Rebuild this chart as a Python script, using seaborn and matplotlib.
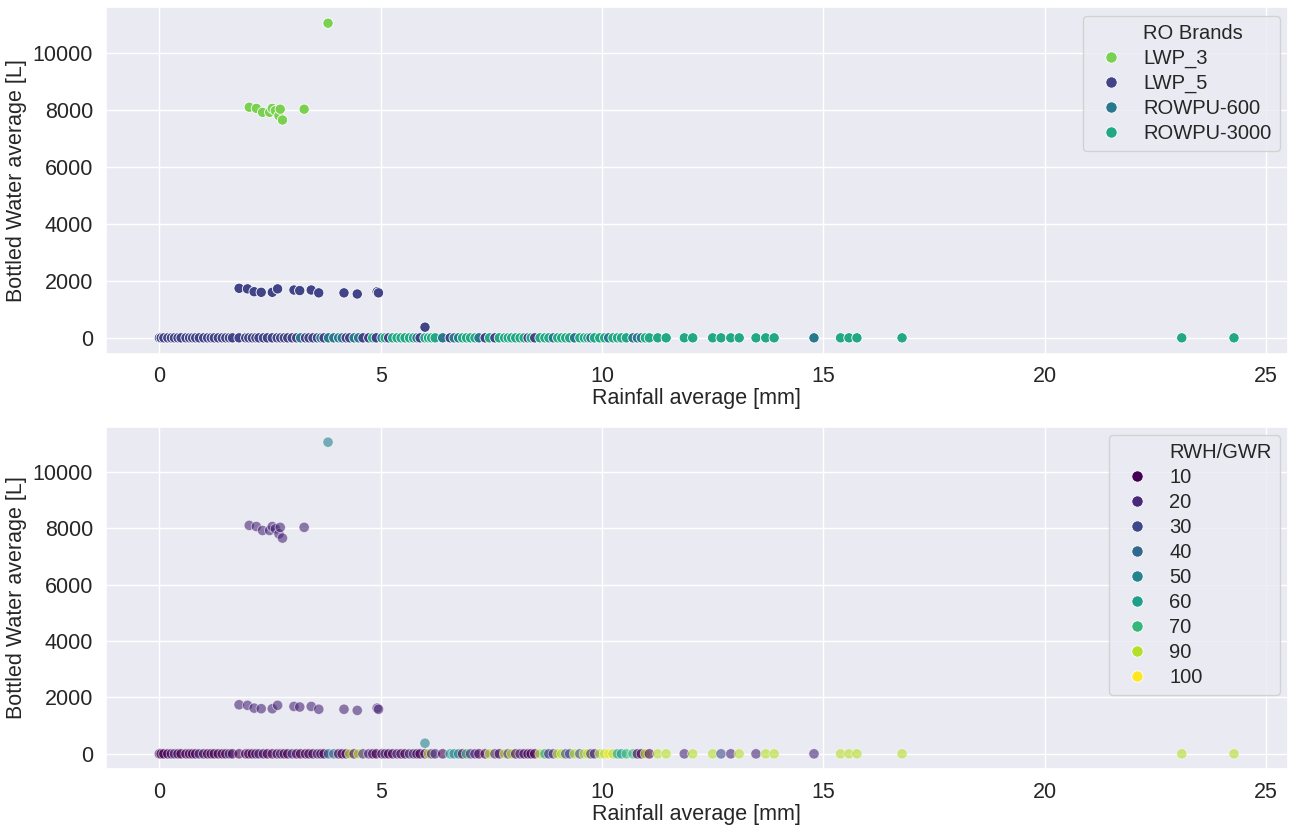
import numpy as np
import pandas as pd
import seaborn as sns
import matplotlib.pyplot as plt
from matplotlib.lines import Line2D

# RO brand names and their colours (top panel)
brands = ["LWP_3", "LWP_5", "ROWPU-600", "ROWPU-3000"]
brand_colors = ["#7ad151", "#414487", "#2a788e", "#22a884"]

# points with non-zero bottled water
lwp3_rain = [2.03, 2.19, 2.33, 2.49, 2.55, 2.62, 2.70, 2.73, 2.78, 3.27, 3.81]
lwp3_water = [8100, 8060, 7920, 7920, 8060, 7980, 7800, 8030, 7650, 8030, 11050]
lwp3_rwh = [20, 20, 20, 20, 20, 20, 20, 20, 20, 20, 50]

lwp5_rain = [1.80, 1.99, 2.14, 2.30, 2.55, 2.67, 3.04, 3.17, 3.43, 3.60, 4.17, 4.47, 4.92, 4.95, 6.00]
lwp5_water = [1740, 1720, 1620, 1600, 1600, 1720, 1680, 1660, 1680, 1580, 1580, 1540, 1620, 1580, 375]
lwp5_rwh = [20, 20, 20, 20, 20, 20, 20, 20, 20, 20, 20, 20, 20, 20, 50]

# points with zero bottled water (brand index into `brands`)
zero_rain = [0.00, 0.04, 0.10, 0.19, 0.27, 0.34, 0.42, 0.49, 0.60, 0.68, 0.75, 0.82, 0.90, 1.00,
             1.09, 1.17, 1.24, 1.33, 1.42, 1.50, 1.58, 1.65, 1.80, 1.95, 2.02, 2.10, 2.18, 2.25,
             2.35, 2.44, 2.55, 2.66, 2.74, 2.82, 2.90, 3.00, 3.10, 3.19, 3.30, 3.38, 3.47, 3.57,
             3.65, 3.72, 3.82, 3.94, 4.05, 4.13, 4.22, 4.30, 4.40, 4.50, 4.60, 4.73, 4.82, 4.90,
             5.03, 5.10, 5.18, 5.27, 5.37, 5.46, 5.55, 5.65, 5.74, 5.82, 5.89, 6.00, 6.08, 6.15,
             6.23, 6.40, 6.57, 6.66, 6.76, 6.85, 6.94, 7.03, 7.13, 7.22, 7.36, 7.46, 7.58, 7.68,
             7.80, 7.88, 7.96, 8.05, 8.15, 8.24, 8.33, 8.40, 8.48, 8.60, 8.71, 8.80, 8.90, 9.00,
             9.09, 9.18, 9.27, 9.38, 9.50, 9.60, 9.68, 9.75, 9.83, 9.95, 10.06, 10.15, 10.25, 10.35,
             10.44, 10.55, 10.70, 10.80, 10.89, 10.98, 11.07, 11.26, 11.45, 11.86, 12.05, 12.50, 12.69, 12.91,
             13.10, 13.48, 13.70, 13.89, 14.79, 15.39, 15.58, 15.76, 16.78, 23.10, 24.28]
zero_brand = [1, 1, 1, 1, 1, 1, 1, 1, 1, 1, 1, 1, 1, 1,
              1, 1, 1, 1, 1, 1, 1, 1, 1, 1, 1, 1, 1, 1,
              1, 1, 1, 1, 1, 1, 1, 1, 1, 2, 1, 1, 1, 1,
              2, 1, 2, 2, 2, 2, 1, 1, 2, 2, 1, 1, 3, 1,
              2, 3, 1, 3, 3, 3, 3, 3, 3, 2, 1, 3, 3, 3,
              3, 2, 1, 2, 2, 3, 3, 3, 3, 2, 1, 3, 1, 3,
              3, 3, 3, 3, 3, 3, 1, 3, 1, 3, 3, 3, 2, 3,
              3, 3, 3, 2, 3, 3, 3, 2, 3, 3, 3, 2, 3, 3,
              3, 3, 2, 2, 2, 3, 3, 3, 3, 3, 3, 3, 3, 3,
              3, 3, 3, 3, 2, 3, 3, 3, 3, 3, 3]
zero_rwh = [10, 10, 10, 10, 10, 20, 10, 10, 10, 10, 10, 10, 20, 10,
            10, 10, 10, 10, 10, 10, 20, 10, 10, 10, 10, 10, 10, 20,
            10, 10, 10, 10, 20, 10, 10, 20, 10, 10, 10, 10, 10, 20,
            10, 10, 40, 40, 10, 10, 10, 90, 10, 90, 20, 20, 10, 10,
            10, 20, 10, 10, 20, 10, 10, 20, 20, 10, 10, 10, 90, 20,
            20, 10, 60, 50, 50, 10, 70, 20, 20, 10, 10, 90, 20, 10,
            90, 20, 90, 10, 20, 10, 10, 10, 10, 90, 60, 20, 20, 90,
            90, 30, 30, 90, 30, 90, 90, 20, 20, 90, 90, 100, 90, 60,
            60, 70, 70, 10, 10, 90, 10, 90, 90, 20, 90, 90, 30, 20,
            90, 20, 90, 90, 20, 90, 90, 90, 90, 90, 90]

df = pd.DataFrame({
    "rain": lwp3_rain + lwp5_rain + zero_rain,
    "water": lwp3_water + lwp5_water + [0] * len(zero_rain),
    "brand": [brands[0]] * len(lwp3_rain) + [brands[1]] * len(lwp5_rain) + [brands[i] for i in zero_brand],
    "rwh": lwp3_rwh + lwp5_rwh + zero_rwh,
})

sns.set_theme(style="darkgrid")
plt.rcParams["font.family"] = ["Liberation Sans", "DejaVu Sans"]
fs = 15.5


def add_legend(ax, title):
    # old-style seaborn legend: the title sits in the label column
    handles, labels = ax.get_legend_handles_labels()
    for h in handles:
        h.set_alpha(1)
    blank = Line2D([], [], linestyle="none")
    ax.legend([blank] + handles, [title] + labels, loc="upper right",
              fontsize=fs - 1, borderaxespad=0.4, handletextpad=0.6,
              labelspacing=0.3, markerscale=1.1)


def style_axis(ax):
    ax.set_xlabel("Rainfall average [mm]", fontsize=fs, labelpad=1)
    ax.set_ylabel("Bottled Water average [L]", fontsize=fs)
    ax.set_xticks([0, 5, 10, 15, 20, 25])
    ax.set_yticks([0, 2000, 4000, 6000, 8000, 10000])
    ax.tick_params(labelsize=fs, pad=3)


fig = plt.figure(figsize=(12.89, 8.3), dpi=100)
ax1 = fig.add_axes([0.082, 0.574, 0.917, 0.417])
ax2 = fig.add_axes([0.082, 0.073, 0.917, 0.413])

sns.scatterplot(data=df, x="rain", y="water", hue="brand", hue_order=brands,
                palette=dict(zip(brands, brand_colors)), s=55, ax=ax1)
style_axis(ax1)
add_legend(ax1, "RO Brands")

sns.scatterplot(data=df, x="rain", y="water", hue="rwh", palette="viridis",
                legend="full", alpha=0.6, s=55, ax=ax2)
style_axis(ax2)
add_legend(ax2, "RWH/GWR")

fig.savefig("out.png", dpi=100)
